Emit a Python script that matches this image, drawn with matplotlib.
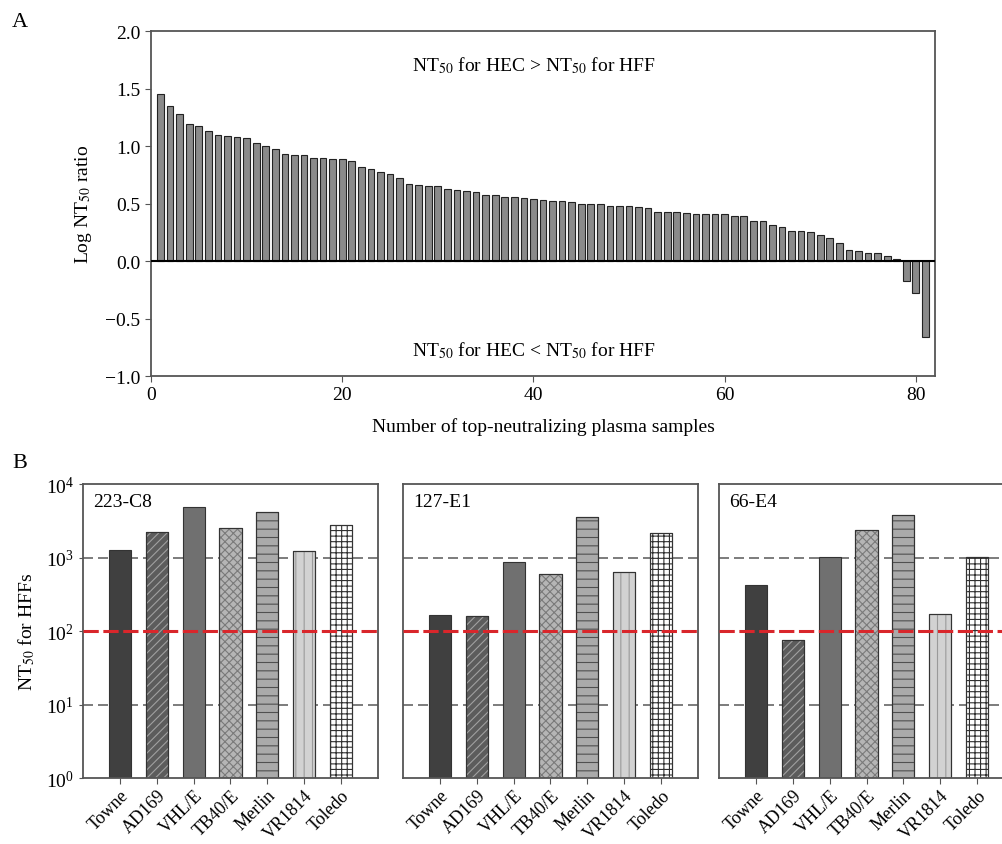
import matplotlib
matplotlib.use("Agg")
import matplotlib.pyplot as plt
import numpy as np

plt.rcParams['font.family'] = ['Liberation Serif', 'DejaVu Serif']
plt.rcParams['mathtext.fontset'] = 'stix'
plt.rcParams['hatch.linewidth'] = 0.8

# Panel A: log NT50 ratio (HEC / HFF) per plasma sample, sorted
log_ratio = [1.45, 1.35, 1.28, 1.19, 1.17, 1.13, 1.10, 1.09, 1.08, 1.07,
             1.03, 1.00, 0.97, 0.93, 0.92, 0.92, 0.90, 0.90, 0.89, 0.89,
             0.87, 0.82, 0.80, 0.77, 0.76, 0.72, 0.67, 0.66, 0.65, 0.65,
             0.63, 0.62, 0.61, 0.60, 0.57, 0.57, 0.56, 0.56, 0.55, 0.54,
             0.53, 0.52, 0.52, 0.51, 0.50, 0.50, 0.50, 0.48, 0.48, 0.48,
             0.47, 0.46, 0.43, 0.43, 0.43, 0.42, 0.41, 0.41, 0.41, 0.41,
             0.39, 0.39, 0.35, 0.35, 0.31, 0.30, 0.26, 0.26, 0.25, 0.23,
             0.20, 0.16, 0.10, 0.09, 0.07, 0.07, 0.04, 0.02, -0.17, -0.28,
             -0.66]
sample_no = list(range(1, len(log_ratio) + 1))

# Panel B: NT50 for HFFs per strain, three antibodies
strains = ['Towne', 'AD169', 'VHL/E', 'TB40/E', 'Merlin', 'VR1814', 'Toledo']
antibodies = ['223-C8', '127-E1', '66-E4']
nt50_223c8 = [1280, 2240, 4820, 2520, 4120, 1240, 2800]
nt50_127e1 = [165, 158, 860, 600, 3520, 630, 2150]
nt50_66e4 = [423, 74, 1030, 2390, 3790, 167, 1006]

face_colors = ['#404040', '#5c5c5c', '#707070', '#b5b5b5', '#aaaaaa', '#d2d2d2', 'white']
hatches = [None, '////', None, 'xxxx', '--', '||', '+++']
hatch_colors = [None, '#a0a0a0', None, '#7a7a7a', '#505050', '#9a9a9a', '#303030']

fig = plt.figure(figsize=(10.02, 8.45), dpi=100)
spine_col = '#555555'

# ---------- panel A ----------
ax = fig.add_axes([0.1507, 0.5538, 0.7824, 0.4083])
ax.bar(sample_no, log_ratio, width=0.7, color='#8a8a8a', edgecolor='#222222', linewidth=0.8, zorder=2)
ax.axhline(0, color='black', lw=1.5, zorder=3)
ax.set_xlim(0, 82)
ax.set_ylim(-1.0, 2.0)
ax.set_xticks([0, 20, 40, 60, 80])
ax.set_yticks(np.arange(-1.0, 2.01, 0.5))
ax.set_yticklabels([f'{v:.1f}'.replace('-', '\u2212') for v in np.arange(-1.0, 2.01, 0.5)])
ax.tick_params(labelsize=14, length=4, color=spine_col)
for s in ax.spines.values():
    s.set_color(spine_col)
    s.set_linewidth(1.3)
ax.set_xlabel('Number of top-neutralizing plasma samples', fontsize=14, labelpad=10)
ax.set_ylabel('Log NT$_{50}$ ratio', fontsize=14, labelpad=8)
ax.text(40, 1.71, 'NT$_{50}$ for HEC > NT$_{50}$ for HFF', fontsize=14, ha='center', va='center')
ax.text(40, -0.77, 'NT$_{50}$ for HEC < NT$_{50}$ for HFF', fontsize=14, ha='center', va='center')

fig.text(0.012, 0.985, 'A', fontsize=16, ha='left', va='top')
fig.text(0.012, 0.452, 'B', fontsize=16, ha='left', va='center')

# ---------- panel B ----------
lefts = [0.0828, 0.4022, 0.7176]
all_vals = [nt50_223c8, nt50_127e1, nt50_66e4]
x = np.arange(len(strains))
for i, (name, vals) in enumerate(zip(antibodies, all_vals)):
    bx = fig.add_axes([lefts[i], 0.0781, 0.2944, 0.3479])
    bx.set_yscale('log')
    bx.set_ylim(1, 1e4)
    bx.set_xlim(-1, 7)
    for yv in [10, 1000]:
        bx.axhline(yv, color='#666666', lw=1.2, dashes=(6, 3), zorder=1)
    for j in range(len(strains)):
        bx.bar(x[j], vals[j], width=0.6, bottom=1, color=face_colors[j],
               edgecolor='#333333', linewidth=0.8, zorder=2)
        if hatches[j]:
            bx.bar(x[j], vals[j], width=0.6, bottom=1, fill=False, hatch=hatches[j],
                   edgecolor=hatch_colors[j], linewidth=0, zorder=2)
            bx.bar(x[j], vals[j], width=0.6, bottom=1, fill=False,
                   edgecolor='#333333', linewidth=0.8, zorder=2)
    bx.axhline(100, color='#d9262b', lw=2.2, dashes=(5, 1.5), zorder=4)
    bx.set_xticks(x)
    bx.set_xticklabels(strains, rotation=45, ha='right', rotation_mode='anchor', fontsize=13)
    bx.minorticks_off()
    bx.tick_params(axis='x', length=4, pad=2, color=spine_col)
    if i == 0:
        bx.set_yticks([1, 10, 100, 1000, 10000])
        bx.tick_params(axis='y', labelsize=14, length=3, color=spine_col)
        bx.set_ylabel('NT$_{50}$ for HFFs', fontsize=14, labelpad=6)
    else:
        bx.set_yticks([])
    for s in bx.spines.values():
        s.set_color(spine_col)
        s.set_linewidth(1.3)
    bx.text(0.035, 0.94, name, transform=bx.transAxes, fontsize=14, ha='left', va='center')

fig.savefig('out.png', dpi=100)
